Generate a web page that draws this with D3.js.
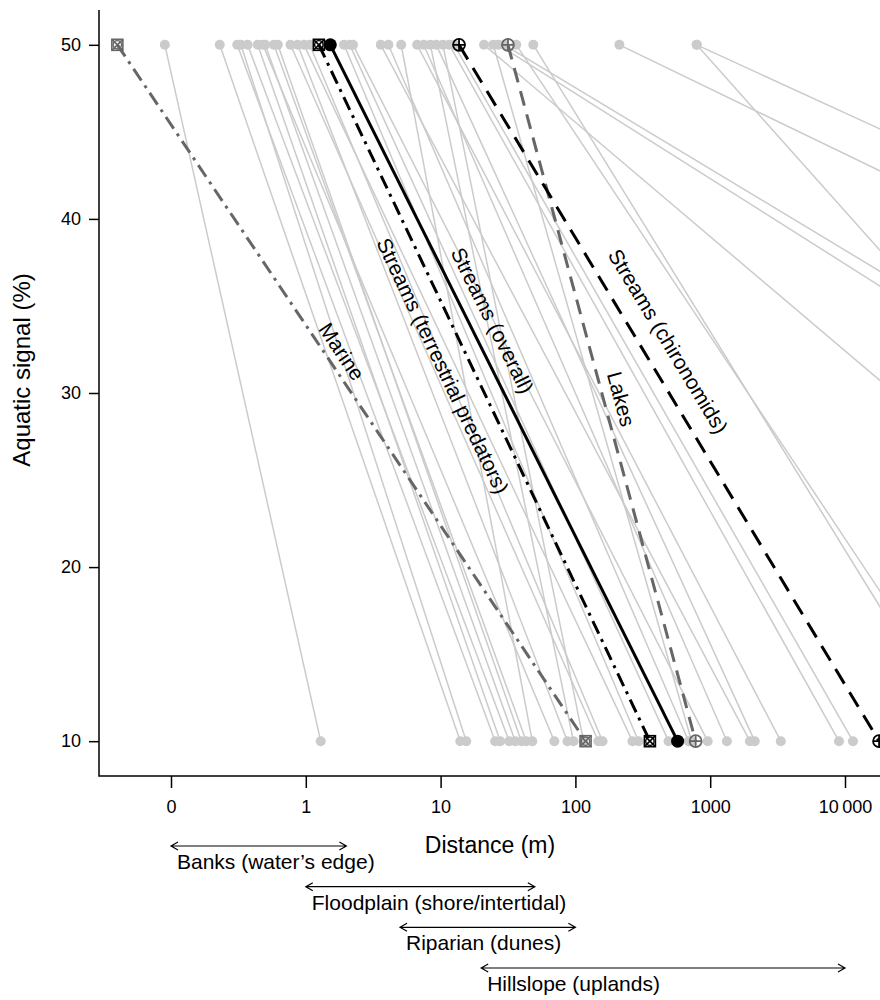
<!DOCTYPE html>
<html>
<head>
<meta charset="utf-8">
<script src="https://cdn.jsdelivr.net/npm/d3@7"></script>
<style>
  body { margin: 0; background: #fff; }
  svg { display: block; font-family: "Liberation Sans", Arial, Helvetica, sans-serif; }
</style>
</head>
<body>
<svg id="chart" width="880" height="1000"></svg>
<script>

// tick labels (the "0" tick sits at 0.1 m on the log axis)
var xTickVals = [0.1, 1, 10, 100, 1000, 10000];
var xTickLabels = ["0", "1", "10", "100", "1000", "10\u2009000"];
var yTickVals = [10, 20, 30, 40, 50];

// individual studies: distance (m) at 50 % and at 10 % aquatic signal
var gray50 = [0.09, 0.23, 0.31, 0.33, 0.37, 0.44, 0.48, 0.50, 0.58, 0.62, 0.77, 0.87,
              0.97, 1.07, 1.92, 2.12, 2.24, 3.6, 4.1, 5.1, 6.7, 7.5, 8.4, 9.3,
              10.4, 11.6, 12.6, 21, 24.6, 26.8, 29.7, 36.4, 48.7, 212, 794, 794];
var gray10 = [1.29, 14.0, 25.4, 15.5, 32.3, 27.7, 69.8, 35.8, 43.2, 39.7, 148, 87.3,
              265, 159, 294, 491, 958, 1970, 692, 47.9, 3340, 1330, 96.7, 2140,
              115, 9020, 11460, 2.6e7, 728, 4e9, 1.1e10, 1.0e5, 7.5e4, 1e13, 1.4e14, 3.2e7];

// summary trends
var trendNames = ["Marine", "Streams (terrestrial predators)", "Streams (overall)", "Lakes", "Streams (chironomids)"];
var trend50 = [0.04, 1.25, 1.52, 31.6, 13.7];
var trend10 = [119, 357, 573, 780, 17900];

// habitat zones along the distance axis
var zoneNames = ["Banks (water\u2019s edge)", "Floodplain (shore/intertidal)", "Riparian (dunes)", "Hillslope (uplands)"];
var zoneFrom = [0.1, 1, 5, 20];
var zoneTo = [2, 50, 100, 10000];

var svg = d3.select('#chart');

var x = d3.scaleLog().domain([0.1, 10000]).range([171, 845]);
var y = d3.scaleLinear().domain([8, 52]).range([776, 10]);

var left = 99, bottom = 776;

// styles for the trends
var tColor = ["#666", "#000", "#000", "#666", "#000"];
var tDash = ["14,6,3,6", "14,6,3,6", null, "15,9", "17,10"];
var tMarker = ["sqx", "sqx", "dot", "plus", "plus"];
// label: level (%) of the label centre along the line, and perpendicular offset (px)
var tLabelAt = [31.9, 32.2, 33.6, 29.4, 32.2];
var tLabelOff = [15, -26, 22, 17, 26];

// gray study lines
var studies = d3.range(gray50.length).map(function(i){ return [gray50[i], gray10[i]]; });

svg.append('g').selectAll('line')
  .data(studies)
  .enter()
  .append('line')
    .attr('x1', function(d){ return x(d[0]); })
    .attr('y1', y(50))
    .attr('x2', function(d){ return x(d[1]); })
    .attr('y2', y(10))
    .style('stroke', '#cbcbcb')
    .style('stroke-width', 1.5);

var dots = [];
studies.forEach(function(d){ dots.push([d[0], 50]); dots.push([d[1], 10]); });
svg.append('g').selectAll('circle')
  .data(dots)
  .enter()
  .append('circle')
    .attr('cx', function(d){ return x(d[0]); })
    .attr('cy', function(d){ return y(d[1]); })
    .attr('r', 5)
    .style('fill', '#cbcbcb');

// trends
var trends = d3.range(trendNames.length).map(function(i){
  return { name: trendNames[i], d50: trend50[i], d10: trend10[i], i: i };
});

svg.append('g').selectAll('line')
  .data(trends)
  .enter()
  .append('line')
    .attr('x1', function(d){ return x(d.d50); })
    .attr('y1', y(50))
    .attr('x2', function(d){ return x(d.d10); })
    .attr('y2', y(10))
    .style('stroke', function(d){ return tColor[d.i]; })
    .style('stroke-width', 3)
    .style('stroke-dasharray', function(d){ return tDash[d.i]; });

function marker(g, cx, cy, kind, col){
  if (kind == 'dot') {
    g.append('circle').attr('cx', cx).attr('cy', cy).attr('r', 6.5).style('fill', col);
  } else if (kind == 'plus') {
    g.append('circle').attr('cx', cx).attr('cy', cy).attr('r', 6)
      .style('fill', 'none').style('stroke', col).style('stroke-width', 1.8);
    g.append('path').attr('d', 'M' + (cx - 6) + ',' + cy + 'H' + (cx + 6) + 'M' + cx + ',' + (cy - 6) + 'V' + (cy + 6))
      .style('stroke', col).style('stroke-width', 1.8);
  } else {
    var s = 5.5;
    g.append('rect').attr('x', cx - s).attr('y', cy - s).attr('width', 2 * s).attr('height', 2 * s)
      .style('fill', 'none').style('stroke', col).style('stroke-width', 1.6);
    g.append('circle').attr('cx', cx).attr('cy', cy).attr('r', 4.2)
      .style('fill', 'none').style('stroke', col).style('stroke-width', 1.4);
    g.append('path').attr('d', 'M' + (cx - s) + ',' + (cy - s) + 'L' + (cx + s) + ',' + (cy + s) +
                               'M' + (cx + s) + ',' + (cy - s) + 'L' + (cx - s) + ',' + (cy + s))
      .style('stroke', col).style('stroke-width', 1.6);
  }
}

var mg = svg.append('g');
trends.forEach(function(d){
  marker(mg, x(d.d50), y(50), tMarker[d.i], tColor[d.i]);
  marker(mg, x(d.d10), y(10), tMarker[d.i], tColor[d.i]);
});

// labels along the trend lines
svg.append('g').selectAll('text')
  .data(trends)
  .enter()
  .append('text')
    .attr('transform', function(d){
      var x0 = x(d.d50), y0 = y(50), x1 = x(d.d10), y1 = y(10);
      var a = Math.atan2(y1 - y0, x1 - x0);
      var t = (y(tLabelAt[d.i]) - y0) / (y1 - y0);
      var px = x0 + t * (x1 - x0), py = y0 + t * (y1 - y0);
      var off = tLabelOff[d.i];
      px += off * Math.sin(a);
      py -= off * Math.cos(a);
      return 'translate(' + px + ',' + py + ') rotate(' + (a * 180 / Math.PI) + ')';
    })
    .attr('text-anchor', 'middle')
    .attr('dy', '0.35em')
    .style('font-size', '21px')
    .text(function(d){ return d.name; });

// axes
svg.append('path')
  .attr('d', 'M' + left + ',10V' + bottom + 'H880')
  .style('fill', 'none').style('stroke', '#000').style('stroke-width', 1.5);

var xAxis = d3.axisBottom(x)
  .tickValues(xTickVals)
  .tickFormat(function(d, i){ return xTickLabels[i]; })
  .tickSize(12)
  .tickPadding(12);

var gx = svg.append('g').attr('transform', 'translate(0,' + bottom + ')').call(xAxis);
gx.select('.domain').remove();
gx.selectAll('line').style('stroke-width', 1.5);
gx.selectAll('text').style('font-size', '18px').style('font-family', 'inherit');

var yAxis = d3.axisLeft(y)
  .tickValues(yTickVals)
  .tickSize(10)
  .tickPadding(8);

var gy = svg.append('g').attr('transform', 'translate(' + left + ',0)').call(yAxis);
gy.select('.domain').remove();
gy.selectAll('line').style('stroke-width', 1.5);
gy.selectAll('text').style('font-size', '18px').style('font-family', 'inherit');

svg.append('text')
  .attr('x', 490).attr('y', 853)
  .attr('text-anchor', 'middle')
  .style('font-size', '23px')
  .text('Distance (m)');

svg.append('text')
  .attr('transform', 'translate(30,370) rotate(-90)')
  .attr('text-anchor', 'middle')
  .style('font-size', '24px')
  .text('Aquatic signal (%)');

// habitat zone arrows
var zoneY = d3.scaleLinear().domain([0, 3]).range([846, 968]);
var zones = d3.range(zoneNames.length).map(function(i){
  return { name: zoneNames[i], from: zoneFrom[i], to: zoneTo[i], i: i };
});

var zg = svg.append('g').selectAll('g')
  .data(zones)
  .enter()
  .append('g');

zg.append('path')
  .attr('d', function(d){
    var a = x(d.from), b = x(d.to), yy = zoneY(d.i);
    return 'M' + a + ',' + yy + 'H' + b +
           'M' + (a + 7) + ',' + (yy - 4) + 'L' + a + ',' + yy + 'L' + (a + 7) + ',' + (yy + 4) +
           'M' + (b - 7) + ',' + (yy - 4) + 'L' + b + ',' + yy + 'L' + (b - 7) + ',' + (yy + 4);
  })
  .style('fill', 'none')
  .style('stroke', '#000')
  .style('stroke-width', 1.2);

zg.append('text')
  .attr('x', function(d){ return x(d.from) + 6; })
  .attr('y', function(d){ return zoneY(d.i) + 23; })
  .style('font-size', '21px')
  .text(function(d){ return d.name; });

</script>
</body>
</html>
